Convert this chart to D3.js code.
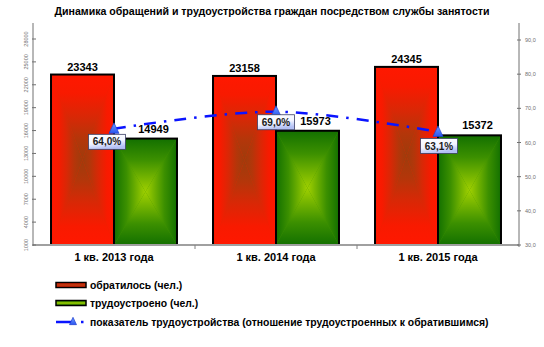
<!DOCTYPE html>
<html>
<head>
<meta charset="utf-8">
<script src="https://cdn.jsdelivr.net/npm/d3@7"></script>
<style>
  html, body { margin: 0; padding: 0; background: #fff; }
  svg { display: block; font-family: "Liberation Sans", Arial, sans-serif; }
</style>
</head>
<body>
<svg id="chart" width="544" height="347"></svg>
<script>
// Data
const categories = ["1 кв. 2013 года", "1 кв. 2014 года", "1 кв. 2015 года"];
const appliedValues = [23343, 23158, 24345];   // обратилось (чел.)
const employedValues = [14949, 15973, 15372];  // трудоустроено (чел.)
const ratioValues = [64.0, 69.0, 63.1];        // показатель трудоустройства, %
const leftTicks = [1000, 4000, 7000, 10000, 13000, 16000, 19000, 22000, 25000, 28000];
const rightTicks = [30, 40, 50, 60, 70, 80, 90];
const titleText = "Динамика обращений и трудоустройства граждан посредством службы занятости";
const legendLabels = [
  "обратилось (чел.)",
  "трудоустроено (чел.)",
  "показатель трудоустройства (отношение трудоустроенных к обратившимся)"
];

// Layout
const plot = { left: 33, right: 519, top: 23, bottom: 245 };
const pctLabelNudge = [[-7, 13], [0, 10.5], [1, 14]];

const svg = d3.select("#chart");
const defs = svg.append("defs");

const x0 = d3.scaleBand().domain(categories).range([plot.left, plot.right]);
const x1 = d3.scaleBand().domain(["applied", "employed"]).range([0, x0.bandwidth()]).paddingOuter(0.286);
const yL = d3.scaleLinear().domain([1000, 28000]).range([plot.bottom, 39]);
const yR = d3.scaleLinear().domain([30, 90]).range([plot.bottom, 40]);

const fmtComma = v => d3.format(".1f")(v).replace(".", ",");

// Rectangular ("from centre") gradients built from four triangles
function rectGradient(id, stops, dir) {
  const coords = {
    top: { x1: 0, y1: 0, x2: 0, y2: 1 },
    bottom: { x1: 0, y1: 1, x2: 0, y2: 0 },
    left: { x1: 0, y1: 0, x2: 1, y2: 0 },
    right: { x1: 1, y1: 0, x2: 0, y2: 0 }
  }[dir];
  const g = defs.append("linearGradient").attr("id", id + "-" + dir)
    .attr("x1", coords.x1).attr("y1", coords.y1).attr("x2", coords.x2).attr("y2", coords.y2);
  stops.forEach(s => g.append("stop").attr("offset", s[0]).attr("stop-color", s[1]));
}
const redStops = [[0, "#ff1800"], [0.22, "#f81a00"], [0.5, "#d82806"], [0.75, "#b4360a"], [1, "#9e3c0c"]];
const greenStops = [[0, "#137000"], [0.4, "#3c9000"], [1, "#a0d000"]];
const baseFill = { red: "#e82200", green: "#409200" };
["top", "bottom", "left", "right"].forEach(d => {
  rectGradient("red", redStops, d);
  rectGradient("green", greenStops, d);
});

function drawBar(x, y, w, h, gid) {
  const g = svg.append("g");
  const cx = x + w / 2, cy = y + h / 2;
  g.append("rect").attr("x", x).attr("y", y).attr("width", w).attr("height", h)
    .attr("fill", baseFill[gid]);
  const tris = {
    top: [[x, y], [x + w, y], [cx, cy]],
    bottom: [[x, y + h], [x + w, y + h], [cx, cy]],
    left: [[x, y], [x, y + h], [cx, cy]],
    right: [[x + w, y], [x + w, y + h], [cx, cy]]
  };
  Object.entries(tris).forEach(([k, pts]) => {
    g.append("path").attr("d", d3.line()(pts) + "Z")
      .attr("fill", `url(#${gid}-${k})`);
  });
  g.append("rect").attr("x", x).attr("y", y).attr("width", w).attr("height", h)
    .attr("fill", "none").attr("stroke", "#000").attr("stroke-width", 2);
}

// Title
svg.append("text").attr("x", 272).attr("y", 15).attr("text-anchor", "middle")
  .attr("font-size", 11).attr("font-weight", "bold").attr("fill", "#000")
  .attr("textLength", 435).attr("lengthAdjust", "spacingAndGlyphs")
  .text(titleText);

// Bars
categories.forEach((c, i) => {
  const bx = x0(c);
  const bw = x1.bandwidth();
  const ra = x1("applied") + bx, ea = x1("employed") + bx;
  drawBar(ra, yL(appliedValues[i]), bw, plot.bottom - yL(appliedValues[i]), "red");
  drawBar(ea, yL(employedValues[i]), bw, plot.bottom - yL(employedValues[i]), "green");
});

// Horizontal axis
svg.append("line").attr("x1", plot.left).attr("x2", plot.right)
  .attr("y1", plot.bottom).attr("y2", plot.bottom)
  .attr("stroke", "#a0a0a0").attr("stroke-width", 2);
categories.slice(1).forEach(c => {
  svg.append("line").attr("x1", x0(c)).attr("x2", x0(c))
    .attr("y1", plot.bottom).attr("y2", plot.bottom + 4)
    .attr("stroke", "#808080").attr("stroke-width", 1);
});
svg.selectAll("text.cat").data(categories).join("text").attr("class", "cat")
  .attr("x", d => x0(d) + x0.bandwidth() / 2).attr("y", 261)
  .attr("text-anchor", "middle").attr("font-size", 11).attr("font-weight", "bold")
  .text(d => d);

// Left axis
svg.append("line").attr("x1", plot.left).attr("x2", plot.left)
  .attr("y1", plot.top).attr("y2", plot.bottom + 1)
  .attr("stroke", "#707070").attr("stroke-width", 1);
leftTicks.forEach(t => {
  svg.append("line").attr("x1", plot.left - 1).attr("x2", plot.left + 3)
    .attr("y1", yL(t)).attr("y2", yL(t)).attr("stroke", "#707070").attr("stroke-width", 1);
  svg.append("text").attr("transform", `translate(${plot.left - 5},${yL(t)}) rotate(-90)`)
    .attr("text-anchor", "middle").attr("font-size", 5.5).attr("fill", "#707070")
    .text(t);
});

// Right axis
svg.append("line").attr("x1", plot.right).attr("x2", plot.right)
  .attr("y1", plot.top).attr("y2", plot.bottom + 2)
  .attr("stroke", "#707070").attr("stroke-width", 1);
rightTicks.forEach(t => {
  svg.append("line").attr("x1", plot.right - 2).attr("x2", plot.right + 2)
    .attr("y1", yR(t)).attr("y2", yR(t)).attr("stroke", "#707070").attr("stroke-width", 1);
  svg.append("text").attr("x", plot.right + 6).attr("y", yR(t) + 2)
    .attr("font-size", 5.5).attr("fill", "#707070").text(fmtComma(t));
});

// Value labels over bars
categories.forEach((c, i) => {
  const bw = x1.bandwidth();
  svg.append("text").attr("x", x0(c) + x1("applied") + bw / 2).attr("y", yL(appliedValues[i]) - 4)
    .attr("text-anchor", "middle").attr("font-size", 11).attr("font-weight", "bold")
    .text(appliedValues[i]);
  svg.append("text").attr("x", x0(c) + x1("employed") + bw / 2 + 8).attr("y", yL(employedValues[i]) - 6)
    .attr("text-anchor", "middle").attr("font-size", 11).attr("font-weight", "bold")
    .text(employedValues[i]);
});

// Ratio line
const px = c => x0(c) + x0.bandwidth() / 2;
const linePts = categories.map((c, i) => [px(c), yR(ratioValues[i])]);
svg.append("path").attr("d", d3.line().curve(d3.curveCatmullRom.alpha(0.5))(linePts))
  .attr("fill", "none").attr("stroke", "#0a14ff").attr("stroke-width", 2.5)
  .attr("stroke-dasharray", "12,8,2.5,8");

const triGrad = defs.append("linearGradient").attr("id", "tri").attr("x1", 0).attr("y1", 0).attr("x2", 0).attr("y2", 1);
triGrad.append("stop").attr("offset", 0).attr("stop-color", "#6f9cff");
triGrad.append("stop").attr("offset", 1).attr("stop-color", "#2a55f0");
function triangle(g, cx, cy, s) {
  g.append("path").attr("d", `M${cx},${cy - s * 0.6}L${cx + s / 2},${cy + s * 0.45}L${cx - s / 2},${cy + s * 0.45}Z`)
    .attr("fill", "url(#tri)").attr("stroke", "#1f3fd0").attr("stroke-width", 0.7);
}
linePts.forEach(p => triangle(svg, p[0], p[1], 10));

// Ratio labels in boxes
const boxGrad = defs.append("linearGradient").attr("id", "box").attr("x1", 0).attr("y1", 0).attr("x2", 0.3).attr("y2", 1);
boxGrad.append("stop").attr("offset", 0).attr("stop-color", "#ffffff");
boxGrad.append("stop").attr("offset", 0.6).attr("stop-color", "#f2f4ff");
boxGrad.append("stop").attr("offset", 1).attr("stop-color", "#b3c0f5");
linePts.forEach((p, i) => {
  const cx = p[0] + pctLabelNudge[i][0], cy = p[1] + pctLabelNudge[i][1];
  const g = svg.append("g");
  g.append("rect").attr("x", cx - 18.5).attr("y", cy - 7.5).attr("width", 37).attr("height", 15)
    .attr("fill", "url(#box)").attr("stroke", "#3a3f66").attr("stroke-width", 0.8);
  g.append("text").attr("x", cx).attr("y", cy + 3.6).attr("text-anchor", "middle")
    .attr("font-size", 10).attr("font-weight", "bold").attr("fill", "#1a1a1a")
    .text(fmtComma(ratioValues[i]) + "%");
});

// Legend
const legRed = defs.append("linearGradient").attr("id", "legRed").attr("x1", 0).attr("y1", 0).attr("x2", 0).attr("y2", 1);
[[0, "#ff1800"], [0.5, "#b03a10"], [1, "#ff1800"]].forEach(s => legRed.append("stop").attr("offset", s[0]).attr("stop-color", s[1]));
const legGreen = defs.append("linearGradient").attr("id", "legGreen").attr("x1", 0).attr("y1", 0).attr("x2", 0).attr("y2", 1);
[[0, "#137000"], [0.5, "#a0d000"], [1, "#137000"]].forEach(s => legGreen.append("stop").attr("offset", s[0]).attr("stop-color", s[1]));

const legY = [285, 303, 322];
svg.append("rect").attr("x", 56).attr("y", legY[0] - 2.5).attr("width", 30).attr("height", 5)
  .attr("fill", "url(#legRed)").attr("stroke", "#000").attr("stroke-width", 1.5);
svg.append("rect").attr("x", 56).attr("y", legY[1] - 2.5).attr("width", 30).attr("height", 5)
  .attr("fill", "url(#legGreen)").attr("stroke", "#000").attr("stroke-width", 1.5);
svg.append("line").attr("x1", 56).attr("x2", 84).attr("y1", legY[2]).attr("y2", legY[2])
  .attr("stroke", "#0a14ff").attr("stroke-width", 2.5).attr("stroke-dasharray", "17,8,2.5,7");
triangle(svg, 73, legY[2] - 0.5, 7);
legendLabels.forEach((t, i) => {
  svg.append("text").attr("x", 90).attr("y", legY[i] + 4).attr("font-size", 10.4)
    .attr("font-weight", "bold").text(t);
});
</script>
</body>
</html>
